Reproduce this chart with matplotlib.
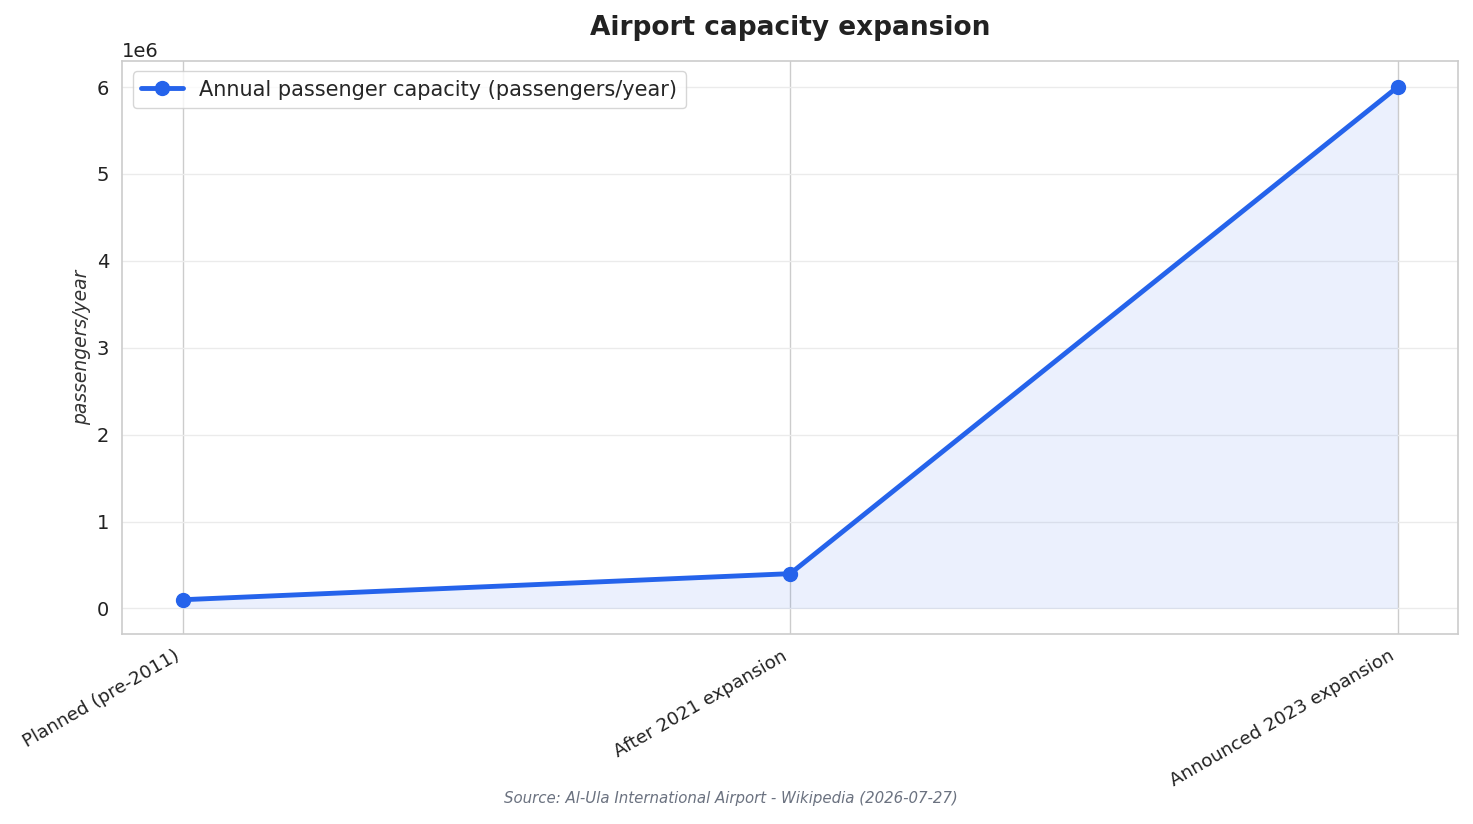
import matplotlib
matplotlib.use("Agg")
import matplotlib.pyplot as plt
import seaborn as sns

categories = ["Planned (pre-2011)", "After 2021 expansion", "Announced 2023 expansion"]
capacity = [100000, 400000, 6000000]
series_label = "Annual passenger capacity (passengers/year)"
title = "Airport capacity expansion"
ylabel = "passengers/year"
source = "Source: Al-Ula International Airport - Wikipedia (2026-07-27)"

sns.set_theme(style="whitegrid")
plt.rcParams['font.family'] = ['DejaVu Sans']

fig, ax = plt.subplots(figsize=(14.73, 8.24), dpi=100)
x = list(range(len(categories)))
color = "#2563eb"
ax.fill_between(x, capacity, 0, color=color, alpha=0.09, linewidth=0)
ax.plot(x, capacity, color=color, linewidth=3.5, marker="o", markersize=10,
        label=series_label)

ax.set_xticks(x)
ax.set_xticklabels(categories, rotation=30, ha="right", fontsize=13.2, color="#222222")
ax.tick_params(axis="x", pad=3)
ax.tick_params(axis="y", labelsize=14, labelcolor="#222222")
ax.set_ylabel(ylabel, fontsize=13.5, fontstyle="italic", color="#333333")
ax.set_title(title, fontsize=19, fontweight="bold", color="#222222", pad=19)
ax.yaxis.get_offset_text().set_fontsize(14)

ax.grid(axis="y", color="#ebebeb", linewidth=1)
ax.grid(axis="x", color="#cccccc", linewidth=1)
for s in ax.spines.values():
    s.set_color("#cccccc")
    s.set_linewidth(1.2)

ax.legend(loc="upper left", fontsize=15, frameon=True, edgecolor="#cccccc")

fig.subplots_adjust(left=0.083, right=0.99, top=0.926, bottom=0.23)
fig.text(0.496, 0.025, source, ha="center", fontsize=10.8, fontstyle="italic",
         color="#6b7280")
fig.savefig("out.png", dpi=100)
